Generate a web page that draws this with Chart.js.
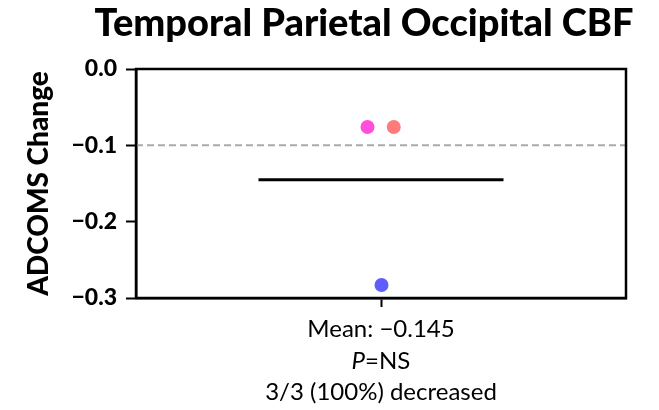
<!DOCTYPE html>
<html>
<head>
<meta charset="utf-8">
<script src="https://cdn.jsdelivr.net/npm/chart.js@4.4.0/dist/chart.umd.min.js"></script>
<style>
    html, body { margin: 0; padding: 0; background: #fff; }
</style>
</head>
<body>
<canvas id="grafico" width="659" height="410"></canvas>
<script>
const titulo = "Temporal Parietal Occipital CBF";
const rotuloY = "ADCOMS Change";
const pontosX = [-0.055, 0.052, 0.002];
const pontosY = [-0.076, -0.076, -0.283];
const coresPontos = ["#ff4fdc", "#ff7b7b", "#5e5eff"];
const mediaX = [-0.5, 0.5];
const mediaY = -0.145;
const referenciaY = -0.1;
const ticksY = [0, -0.1, -0.2, -0.3];
// cada linha do rótulo do eixo x: [texto, itálico]
const rotuloX = [
    [["Mean: \u22120.145", false]],
    [["P", true], ["=NS", false]],
    [["3/3 (100%) decreased", false]]
];

Chart.defaults.font.family = "Lato, 'Open Sans', sans-serif";
Chart.defaults.color = "#000";

const fmt = v => v === 0 ? "0.0" : "\u2212" + Math.abs(v).toFixed(1);

// moldura, título e rótulos do eixo x
const extras = {
    id: "extras",
    afterDraw(chart) {
        const ctx = chart.ctx;
        const area = chart.chartArea;
        const xs = chart.scales.x;

        ctx.save();
        ctx.strokeStyle = "#000";
        ctx.lineWidth = 2.5;
        ctx.strokeRect(area.left, area.top, area.right - area.left, area.bottom - area.top);

        ctx.fillStyle = "#000";
        ctx.textBaseline = "alphabetic";
        ctx.textAlign = "center";
        ctx.font = "900 38px Lato, sans-serif";
        ctx.fillText(titulo, (area.left + area.right) / 2 - 17, 36);

        const cx = xs.getPixelForValue(0);
        ctx.textAlign = "left";
        rotuloX.forEach((linha, i) => {
            const y = area.bottom + 39 + i * 31.5;
            let larg = 0;
            linha.forEach(([t, it]) => {
                ctx.font = (it ? "italic " : "") + "24px Lato, sans-serif";
                larg += ctx.measureText(t).width;
            });
            let x = cx - larg / 2;
            linha.forEach(([t, it]) => {
                ctx.font = (it ? "italic " : "") + "24px Lato, sans-serif";
                ctx.fillText(t, x, y);
                x += ctx.measureText(t).width;
            });
        });
        ctx.restore();
    }
};

const ctx = document.getElementById("grafico").getContext("2d");

window.grafico = new Chart(ctx, {
    type: "scatter",
    data: {
        datasets: [
            {
                data: pontosX.map((x, i) => ({ x: x, y: pontosY[i] })),
                backgroundColor: coresPontos,
                borderWidth: 0,
                pointRadius: 7
            },
            {
                type: "line",
                data: mediaX.map(x => ({ x: x, y: mediaY })),
                borderColor: "#000",
                borderWidth: 3,
                pointRadius: 0
            },
            {
                type: "line",
                data: [{ x: -1, y: referenciaY }, { x: 1, y: referenciaY }],
                borderColor: "#aaaaaa",
                borderWidth: 2,
                borderDash: [7, 4],
                pointRadius: 0
            }
        ]
    },
    options: {
        responsive: false,
        animation: false,
        devicePixelRatio: 1,
        layout: { padding: { left: 10, right: 33, top: 69, bottom: 0 } },
        plugins: {
            legend: { display: false },
            tooltip: { enabled: false }
        },
        scales: {
            x: {
                type: "linear",
                min: -1,
                max: 1,
                afterBuildTicks: s => { s.ticks = [{ value: 0 }]; },
                afterFit: s => { s.height = 112; },
                ticks: { display: false },
                grid: {
                    drawOnChartArea: false,
                    drawTicks: true,
                    tickLength: 9,
                    tickColor: "#000",
                    tickWidth: 2
                },
                border: { color: "#000", width: 2.5 }
            },
            y: {
                min: -0.3,
                max: 0,
                afterBuildTicks: s => { s.ticks = ticksY.map(v => ({ value: v })); },
                afterFit: s => { s.width = 126; },
                ticks: {
                    font: { size: 23, weight: "900" },
                    padding: 9,
                    callback: v => fmt(v)
                },
                grid: {
                    drawOnChartArea: false,
                    drawTicks: true,
                    tickLength: 10,
                    tickColor: "#000",
                    tickWidth: 2
                },
                border: { color: "#000", width: 2.5 },
                title: {
                    display: true,
                    text: rotuloY,
                    font: { size: 28, weight: "900" },
                    padding: { top: 12, bottom: 0 }
                }
            }
        }
    },
    plugins: [extras]
});
</script>
</body>
</html>
